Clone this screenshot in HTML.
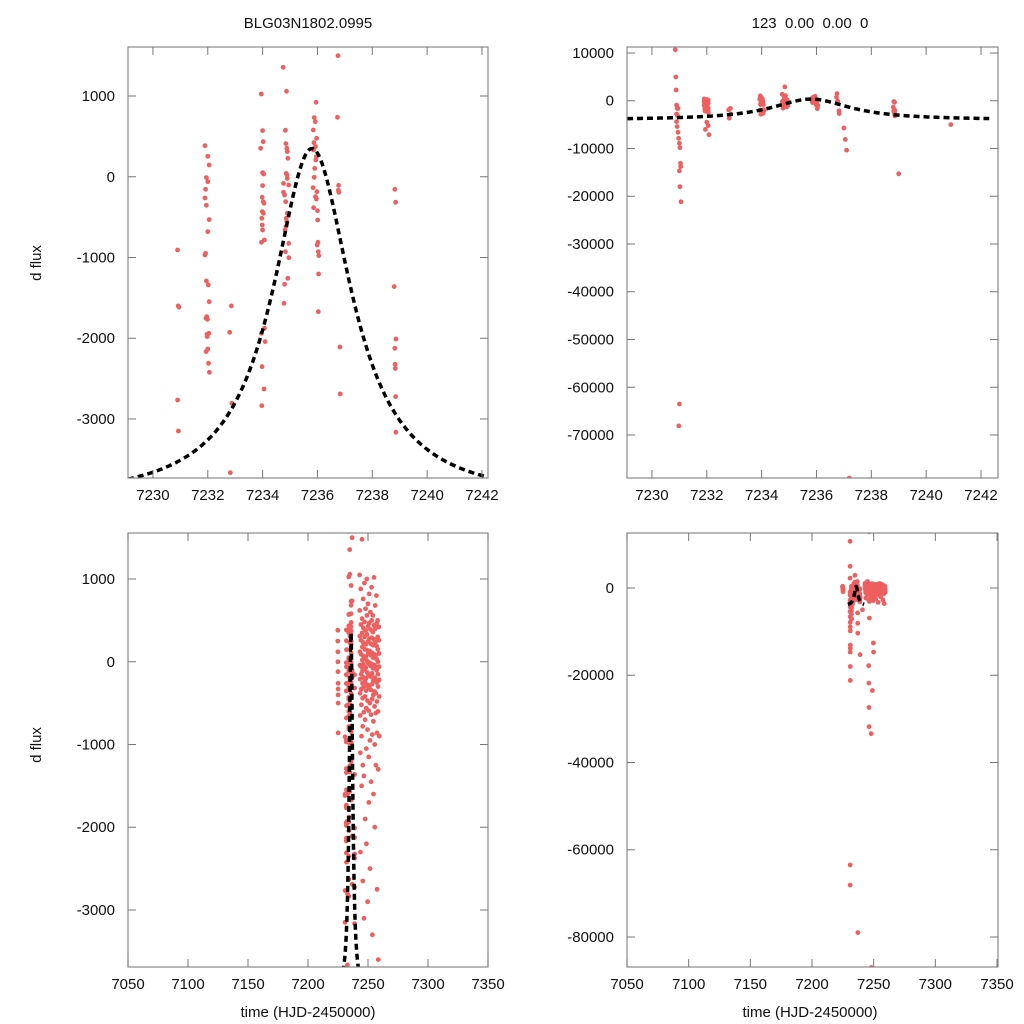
<!DOCTYPE html>
<html><head><meta charset="utf-8"><style>
html,body{margin:0;padding:0;background:#fff;overflow:hidden;width:1024px;height:1024px;}
svg{display:block;position:absolute;left:0;top:0;font-family:"Liberation Sans",sans-serif;}
</style></head><body>
<svg id="chart" width="1024" height="1024" viewBox="0 0 1024 1024">
<text x="308" y="28" text-anchor="middle" font-size="15" fill="#111">BLG03N1802.0995</text>
<text x="810" y="28" text-anchor="middle" font-size="15" fill="#111" xml:space="preserve">123  0.00  0.00  0</text>
<text transform="translate(41,263) rotate(-90)" text-anchor="middle" font-size="15" fill="#111">d flux</text>
<text transform="translate(41,745) rotate(-90)" text-anchor="middle" font-size="15" fill="#111">d flux</text>
<text x="308" y="1017" text-anchor="middle" font-size="15" fill="#111">time (HJD-2450000)</text>
<text x="810" y="1017" text-anchor="middle" font-size="15" fill="#111">time (HJD-2450000)</text>
</svg>
<script>
// ---- data ----
const obsTimes = [
 7230.9,7230.92,7230.95,7230.9,7230.93,
 7231.9,7232.0,7232.05,7231.95,7232.0,7231.92,7231.9,7231.95,7232.05,7232.0,7231.92,7231.9,7231.95,7232.02,7232.05,7231.96,7231.93,7231.99,7232.04,7231.97,7231.98,7232.0,7231.94,7232.03,7232.06,
 7232.86,7232.8,7232.88,7232.82,
 7233.95,7234.0,7234.02,7233.93,7234.0,7234.02,7234.04,7234.0,7233.98,7234.02,7234.05,7233.99,7234.03,7233.97,7233.99,7234.0,7234.06,7233.96,7234.07,7233.95,7234.09,7233.98,7234.05,7233.97,
 7234.75,7234.87,7234.83,7234.85,7234.88,7234.9,7234.92,7234.86,7234.89,7234.9,7234.76,7234.95,7234.76,7234.8,7234.84,7234.9,7234.86,7234.88,7234.85,7234.82,7234.95,7234.83,7234.96,7234.92,7234.8,7234.78,
 7235.95,7235.88,7235.92,7235.85,7235.97,7235.87,7235.93,7235.86,7235.96,7235.94,7235.9,7235.88,7235.84,7235.98,7235.93,7235.96,7235.86,7236.0,7236.01,7236.02,7235.99,7236.03,7236.05,7236.04,7236.03,
 7236.75,7236.73,7236.77,7236.76,7236.78,7236.82,7236.83,7237.0,7237.05,7237.1,7237.2,
 7238.82,7238.85,7238.8,7238.86,7238.82,7238.83,7238.84,7238.85,7238.86,7239.0,
 7230.85,7230.87,7230.88,7230.9,7230.92,7230.95,7230.97,7231.0,7231.02,7231.04,7231.05,7231.0,7231.02,7231.06,7231.0,7230.98,
 7232.0,7232.05,7231.95,7232.08,7234.85,7240.9,
 7224.8,7224.85,7224.9,7224.95,7225.0,7225.05,7225.1,7225.15,7225.2,7225.1,
 7246.3,7246.5,7249.8,7249.9,7246.0,7246.1,7249.0,7246.2,7246.3,7248.0,7248.1
];
const obsFlux = [
 -907,-1600,-1616,-2765,-3149,
 385,253,146,-11,-61,-156,-263,-354,-531,-680,-948,-969,-1291,-1340,-1547,-1733,-1753,-1766,-1939,-1952,-1980,-2133,-2166,-2311,-2422,
 -1600,-1927,-2806,-3665,
 1025,571,434,352,50,42,34,-110,-255,-309,-329,-432,-453,-515,-598,-659,-783,-812,-1877,-1939,-2042,-2352,-2629,-2835,
 1355,1058,575,410,352,311,228,42,21,-20,-82,-102,-193,-226,-309,-453,-515,-556,-618,-659,-825,-928,-1002,-1258,-1332,-1567,
 922,732,682,579,476,422,373,331,249,207,104,-7,-135,-185,-247,-276,-383,-420,-536,-812,-845,-928,-977,-1204,-1671,
 1499,736,-106,-168,-193,-2108,-2690,-5700,-8100,-10350,-79000,
 -156,-317,-1361,-2009,-2125,-2323,-2373,-2723,-3165,-15300,
 10700,4970,2250,-4370,-5420,-6600,-7870,-8920,-9830,-13100,-13800,-14700,-18000,-21170,-63500,-68100,
 -4500,-5200,-6000,-7100,2900,-5000,
 380,250,120,0,-120,-260,-400,-500,-860,-330,
 12900,-6900,-12600,-14700,-17800,-21800,-23500,-27400,-31800,-33400,-87000
];
const clusterNights = [7243,7244,7245,7246,7247,7248,7249,7250,7251,7252,7253,7254,7255,7256,7257,7258,7259];
const clusterFlux = [
 [1050,620,310,120,-40,-210,-380,-650,-1100,-2300],
 [880,450,260,90,-60,-150,-330,-520,-900,-1500],
 [1480,520,350,180,20,-110,-260,-440,-780,-1250,-2650],
 [760,410,230,70,-30,-190,-300,-610,-1380,-3100],
 [950,480,300,150,40,-90,-240,-420,-700,-1900],
 [640,380,210,60,-70,-200,-350,-560,-1050,-2200],
 [1000,560,330,140,10,-130,-280,-470,-820,-2900],
 [700,430,250,100,-20,-170,-310,-590,-1150,-1700],
 [820,470,280,130,-10,-160,-290,-500,-950,-2500],
 [600,390,220,80,-50,-180,-340,-640,-1450],
 [900,500,290,110,-30,-140,-270,-450,-880,-3300],
 [560,360,200,50,-80,-230,-400,-720,-1600],
 [1020,440,270,90,-40,-190,-360,-540,-1000,-2000],
 [680,400,240,70,-60,-210,-380,-620,-1250],
 [800,460,190,30,-100,-250,-480,-860,-2750],
 [500,300,150,0,-150,-300,-600,-1300,-3600],
 [420,260,100,-60,-220,-420,-900]
];
// model parameters (peak time, width, amplitude, baseline)
const modelT0 = 7235.8, modelW = 1.75, modelAmp = 4374, modelBase = -4024;
const modelRange = [7229.09, 7242.3];

const xTicksTop = [7230,7232,7234,7236,7238,7240,7242];
const xTicksBottom = [7050,7100,7150,7200,7250,7300,7350];
const yTicksTL = [1000,0,-1000,-2000,-3000];
const yTicksTR = [10000,0,-10000,-20000,-30000,-40000,-50000,-60000,-70000];
const yTicksBL = [1000,0,-1000,-2000,-3000];
const yTicksBR = [0,-20000,-40000,-60000,-80000];

const panels = [
 {name:'top-left',x0:128,x1:488,y0:47,y1:478,xmin:7229.09,xmax:7242.22,ymin:-3731,ymax:1607,xt:xTicksTop,yt:yTicksTL},
 {name:'top-right',x0:627,x1:998,y0:47,y1:478,xmin:7229.09,xmax:7242.62,ymin:-79005,ymax:11256,xt:xTicksTop,yt:yTicksTR},
 {name:'bottom-left',x0:128,x1:488,y0:533,y1:967,xmin:7050,xmax:7350,ymin:-3689,ymax:1556,xt:xTicksBottom,yt:yTicksBL},
 {name:'bottom-right',x0:627,x1:998,y0:533,y1:967,xmin:7050,xmax:7350.8,ymin:-86877,ymax:12607,xt:xTicksBottom,yt:yTicksBR}
];

const NS='http://www.w3.org/2000/svg';
const svg=document.getElementById('chart');
function mk(tag,attrs,parent){const e=document.createElementNS(NS,tag);for(const k in attrs)e.setAttribute(k,attrs[k]);(parent||svg).appendChild(e);return e;}
function model(t){const u=(t-modelT0)/modelW;return modelBase+modelAmp/(1+u*u);}

const allT=[],allF=[];
const nObs=Math.min(obsTimes.length,obsFlux.length);
for(let i=0;i<nObs;i++){allT.push(obsTimes[i]);allF.push(obsFlux[i]);}
clusterNights.forEach((n,i)=>{clusterFlux[i].forEach((f,k)=>{allT.push(n+0.07*k);allF.push(f);});});

panels.forEach((p,pi)=>{
 const sx=t=>p.x0+(t-p.xmin)/(p.xmax-p.xmin)*(p.x1-p.x0);
 const sy=v=>p.y1-(v-p.ymin)/(p.ymax-p.ymin)*(p.y1-p.y0);
 const g=mk('g',{});
 
 
 const cid='clip'+pi;
 const cp=mk('clipPath',{id:cid},g);
 mk('rect',{x:p.x0,y:p.y0,width:p.x1-p.x0,height:p.y1-p.y0},cp);
 const pg=mk('g',{'clip-path':'url(#'+cid+')'},g);
 
 
 for(let i=0;i<allT.length;i++){
  const c=mk('circle',{cx:sx(allT[i]).toFixed(1),cy:sy(allF[i]).toFixed(1),r:2.4,fill:'#ee5f5f'},pg);
  
  
 }
 let d='';
 const N=200;
 for(let k=0;k<=N;k++){const t=modelRange[0]+(modelRange[1]-modelRange[0])*k/N;d+=(k?'L':'M')+sx(t).toFixed(2)+','+sy(model(t)).toFixed(2);}
 const ml=mk('path',{d:d,fill:'none',stroke:'#000','stroke-width':3.5,'stroke-dasharray':'6,4','clip-path':'url(#'+cid+')'},g);
 
 
 const fr=mk('rect',{x:p.x0,y:p.y0,width:p.x1-p.x0,height:p.y1-p.y0,fill:'none',stroke:'#888','stroke-width':1.2},g);
 
 
 p.xt.forEach(t=>{
  const x=sx(t);
  mk('line',{x1:x,x2:x,y1:p.y1,y2:p.y1-8,stroke:'#777','stroke-width':1},g);
  mk('line',{x1:x,x2:x,y1:p.y0,y2:p.y0+8,stroke:'#777','stroke-width':1},g);
  const tx=mk('text',{x:x,y:p.y1+22,'text-anchor':'middle','font-size':15,fill:'#111'},g);
  tx.textContent=t;
  
  
 });
 p.yt.forEach(v=>{
  const y=sy(v);
  mk('line',{x1:p.x0,x2:p.x0+8,y1:y,y2:y,stroke:'#777','stroke-width':1},g);
  mk('line',{x1:p.x1,x2:p.x1-8,y1:y,y2:y,stroke:'#777','stroke-width':1},g);
  const tx=mk('text',{x:p.x0-13,y:y+5,'text-anchor':'end','font-size':15,fill:'#111'},g);
  tx.textContent=v;
  
  
 });
});
</script>
</body></html>
